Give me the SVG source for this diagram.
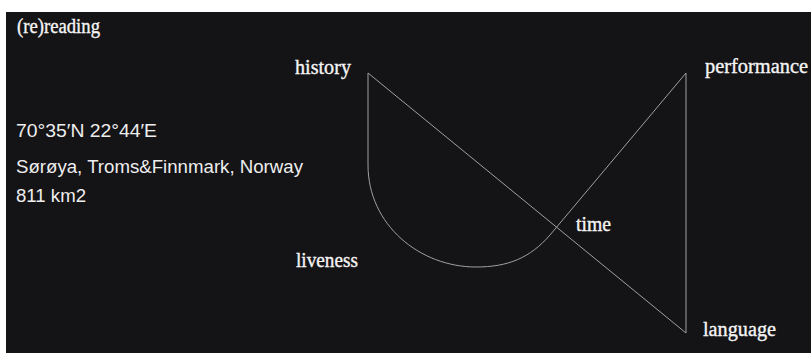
<svg xmlns="http://www.w3.org/2000/svg" width="811" height="353" viewBox="0 0 811 353">
<style>
.serif{font-family:"Liberation Serif","DejaVu Serif",serif;font-size:20px;fill:#f4f4f4;stroke:#f4f4f4;stroke-width:0.35}
.sans{font-family:"Liberation Sans",Arial,sans-serif;font-size:17.5px;fill:#eeeeee}
.conn{fill:none;stroke:#a0a0a0;stroke-width:1}
</style>
<rect x="0" y="0" width="811" height="353" fill="#ffffff"/>
<rect x="6" y="12" width="805" height="341" fill="#141316"/>
<text class="serif" x="17" y="33" font-size="17" textLength="83" lengthAdjust="spacingAndGlyphs">(re)reading</text>
<g id="info">
<text class="sans" x="16" y="137" textLength="141" lengthAdjust="spacingAndGlyphs">70°35′N 22°44′E</text>
<text class="sans" x="16" y="173" textLength="287" lengthAdjust="spacingAndGlyphs">Sørøya, Troms&amp;Finnmark, Norway</text>
<text class="sans" x="16" y="202" textLength="70" lengthAdjust="spacingAndGlyphs">811 km2</text>
</g>
<g id="connectors">
<path class="conn" d="M368,73 V165 C368,225 420,267 476,267 C508,267 530,258 550,235 L686,73 V333 Z"/>
</g>
<g id="history"><text class="serif" x="295" y="74" textLength="56" lengthAdjust="spacingAndGlyphs">history</text></g>
<g id="performance"><text class="serif" x="705" y="73" textLength="103" lengthAdjust="spacingAndGlyphs">performance</text></g>
<g id="liveness"><text class="serif" x="296" y="267" textLength="62" lengthAdjust="spacingAndGlyphs">liveness</text></g>
<g id="time"><text class="serif" x="576" y="231" textLength="35" lengthAdjust="spacingAndGlyphs">time</text></g>
<g id="language"><text class="serif" x="703" y="336" textLength="73" lengthAdjust="spacingAndGlyphs">language</text></g>
</svg>
